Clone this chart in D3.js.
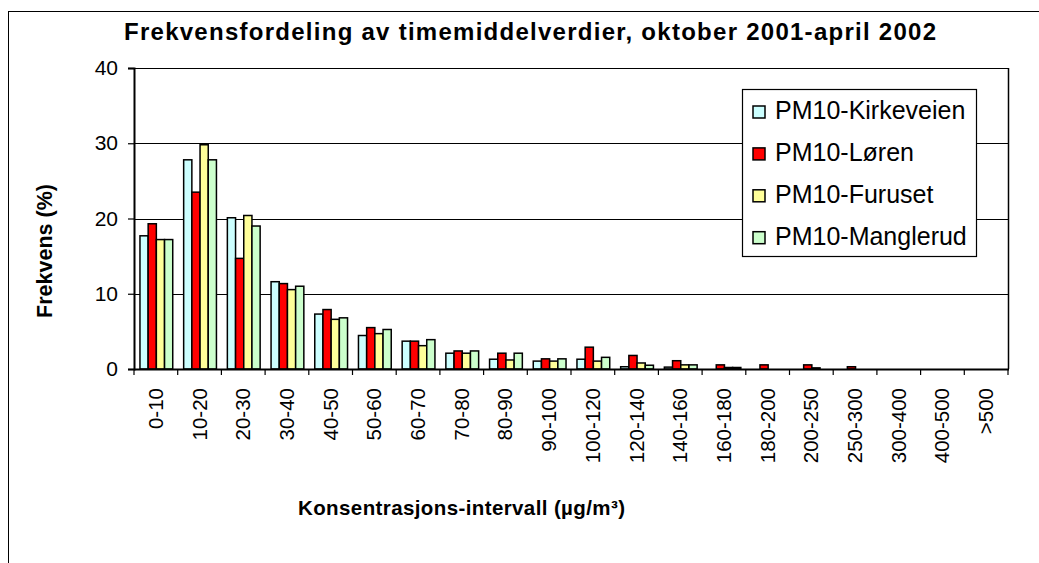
<!DOCTYPE html>
<html><head><meta charset="utf-8">
<script src="https://cdn.jsdelivr.net/npm/d3@7"></script>
<style>
html,body{margin:0;padding:0;background:#fff;}
svg{display:block;font-family:Arial,"Liberation Sans",sans-serif;}
</style></head>
<body>
<svg id="chart" width="1039" height="563"></svg>
<script>
const categories = ["0-10","10-20","20-30","30-40","40-50","50-60","60-70","70-80","80-90","90-100","100-120","120-140","140-160","160-180","180-200","200-250","250-300","300-400","400-500",">500"];
const seriesNames = ["PM10-Kirkeveien","PM10-Løren","PM10-Furuset","PM10-Manglerud"];
const kirkeveien = [17.7,27.8,20.1,11.6,7.3,4.45,3.7,2.1,1.3,1.05,1.3,0.3,0.25,0,0,0,0,0,0,0];
const loren      = [19.3,23.5,14.7,11.35,7.9,5.5,3.7,2.4,2.1,1.35,2.9,1.8,1.1,0.55,0.55,0.55,0.3,0,0,0];
const furuset    = [17.2,29.8,20.4,10.55,6.6,4.7,3.1,2.1,1.2,1.05,1.05,0.8,0.55,0.2,0,0.15,0,0,0,0];
const manglerud  = [17.2,27.8,19.0,11.0,6.8,5.25,3.9,2.4,2.1,1.35,1.55,0.5,0.55,0.2,0,0,0,0,0,0];
const yTicks = [0,10,20,30,40];
const colors = ["#CCFFFF","#FF0000","#FFFF99","#CCFFCC"];
const titleText = "Frekvensfordeling av timemiddelverdier, oktober 2001-april 2002";
const yTitle = "Frekvens (%)";
const xTitle = "Konsentrasjons-intervall (µg/m³)";

const series = [kirkeveien, loren, furuset, manglerud];
const svg = d3.select("#chart");
const L = 134, R = 1008, T = 68, B = 369;

// outer chart border (extends beyond view)
svg.append("rect").attr("x",8.5).attr("y",11.5).attr("width",1100).attr("height",700)
  .attr("fill","#fff").attr("stroke","#000").attr("stroke-width",1);

const x0 = d3.scaleBand().domain(categories).range([L,R]).padding(0);
const gap = x0.bandwidth()*0.25;
const x1 = d3.scaleBand().domain(d3.range(4)).range([gap/2+0.5, x0.bandwidth()-gap/2+0.5]).padding(0);
const y = d3.scaleLinear().domain([0,40]).range([B,T]);

// gridlines
svg.append("g").selectAll("line").data(yTicks.filter(t=>t>0)).join("line")
  .attr("x1",L).attr("x2",R).attr("y1",d=>Math.round(y(d))+0.5).attr("y2",d=>Math.round(y(d))+0.5)
  .attr("stroke","#000").attr("stroke-width",1);
// right border
svg.append("line").attr("x1",R+0.5).attr("x2",R+0.5).attr("y1",T).attr("y2",B).attr("stroke","#000").attr("stroke-width",1.5);

// bars
const g = svg.append("g");
categories.forEach((c,i)=>{
  series.forEach((s,j)=>{
    const v = s[i];
    if (v<=0) return;
    g.append("rect")
      .attr("x", x0(c)+x1(j))
      .attr("y", y(v))
      .attr("width", x1.bandwidth())
      .attr("height", B - y(v))
      .attr("fill", colors[j])
      .attr("stroke","#000").attr("stroke-width",1.5);
  });
});

// y axis
const yAxis = svg.append("g").attr("transform",`translate(${L},0)`)
  .call(d3.axisLeft(y).tickValues(yTicks).tickSize(6).tickPadding(10));
yAxis.select(".domain").attr("stroke","#000").attr("stroke-width",2);
yAxis.selectAll(".tick line").attr("stroke","#000").attr("stroke-width",1.2);
yAxis.selectAll(".tick text").attr("font-size",21).attr("fill","#000")
  .attr("font-family","Arial,'Liberation Sans',sans-serif");

// x axis
const xAxis = svg.append("g").attr("transform",`translate(0,${B})`)
  .call(d3.axisBottom(x0).tickSize(0).tickPadding(0));
xAxis.select(".domain").remove();
svg.append("line").attr("x1",L).attr("x2",R+1).attr("y1",B+0.5).attr("y2",B+0.5).attr("stroke","#000").attr("stroke-width",2);
// boundary ticks
const bounds = categories.map(c=>x0(c)).concat([R]);
svg.append("g").selectAll("line").data(bounds).join("line")
  .attr("x1",d=>d).attr("x2",d=>d).attr("y1",B).attr("y2",B+6)
  .attr("stroke","#000").attr("stroke-width",1.2);
xAxis.selectAll(".tick text")
  .attr("font-size",20.5).attr("fill","#000")
  .attr("font-family","Arial,'Liberation Sans',sans-serif")
  .attr("text-anchor","end").attr("dy",null)
  .attr("transform","translate(7,19) rotate(-90)")
  .attr("x",0).attr("y",0);

// titles
svg.append("text").attr("x",124).attr("y",40).attr("font-size",24).attr("font-weight","bold")
  .attr("textLength",812).attr("lengthAdjust","spacing").text(titleText);
svg.append("text").attr("transform","translate(52,251) rotate(-90)").attr("text-anchor","middle")
  .attr("font-size",21.5).attr("font-weight","bold").text(yTitle);
svg.append("text").attr("x",298).attr("y",515).attr("font-size",20.5).attr("font-weight","bold")
  .attr("textLength",327).attr("lengthAdjust","spacing").text(xTitle);

// legend
const lg = svg.append("g");
lg.append("rect").attr("x",742.5).attr("y",89.5).attr("width",234).attr("height",167)
  .attr("fill","#fff").attr("stroke","#000").attr("stroke-width",1.2);
seriesNames.forEach((n,j)=>{
  const cy = 110 + j*41.9;
  lg.append("rect").attr("x",753).attr("y",cy-4).attr("width",12).attr("height",12)
    .attr("fill",colors[j]).attr("stroke","#000").attr("stroke-width",1.5);
  lg.append("text").attr("x",775).attr("y",cy+9).attr("font-size",25).text(n);
});
</script>
</body></html>
